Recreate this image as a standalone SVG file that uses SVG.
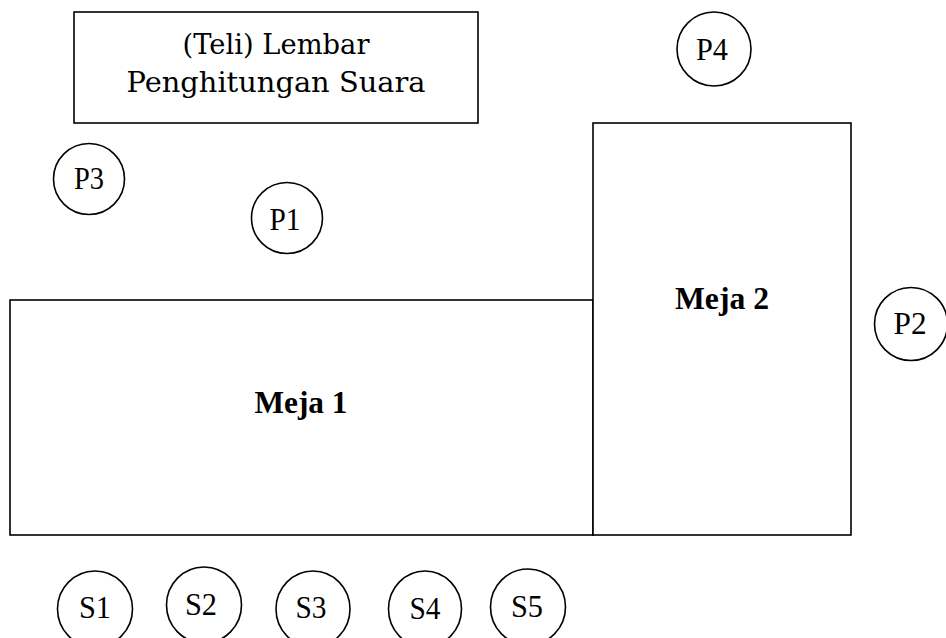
<svg xmlns="http://www.w3.org/2000/svg" width="946" height="638" viewBox="0 0 946 638">
<style>
  .box{fill:#fff;stroke:#000;stroke-width:1.6}
  .seat{fill:#fff;stroke:#000;stroke-width:1.6}
  .lbl{font-family:"Liberation Serif","Times New Roman",serif;font-size:32px;fill:#000;text-anchor:middle}
  .tbl{font-family:"Liberation Serif","Times New Roman",serif;font-size:32px;font-weight:bold;fill:#000;text-anchor:middle}
  .sheet{font-family:"DejaVu Serif","Liberation Serif",serif;font-size:27px;fill:#000;text-anchor:middle}
</style>
<rect width="946" height="638" fill="#fff"/>
<g id="lembar">
  <rect class="box" x="74" y="12" width="404" height="111"/>
  <text class="sheet" x="276" y="54" textLength="187" lengthAdjust="spacingAndGlyphs">(Teli) Lembar</text>
  <text class="sheet" x="276" y="92" textLength="299" lengthAdjust="spacingAndGlyphs">Penghitungan Suara</text>
</g>
<g id="meja1">
  <rect class="box" x="10" y="300" width="583" height="235"/>
  <text class="tbl" x="301" y="413" textLength="93" lengthAdjust="spacingAndGlyphs">Meja 1</text>
</g>
<g id="meja2">
  <rect class="box" x="593" y="123" width="258" height="412"/>
  <text class="tbl" x="722" y="309" textLength="94" lengthAdjust="spacingAndGlyphs">Meja 2</text>
</g>
<g id="p1"><circle class="seat" cx="287" cy="218" r="35.5"/><text class="lbl" x="285" y="230" textLength="31" lengthAdjust="spacingAndGlyphs">P1</text></g>
<g id="p2"><circle class="seat" cx="911" cy="324" r="36.5"/><text class="lbl" x="910" y="334" textLength="33" lengthAdjust="spacingAndGlyphs">P2</text></g>
<g id="p3"><circle class="seat" cx="89" cy="179" r="35.5"/><text class="lbl" x="89" y="189" textLength="30" lengthAdjust="spacingAndGlyphs">P3</text></g>
<g id="p4"><circle class="seat" cx="714" cy="49" r="37"/><text class="lbl" x="712" y="60" textLength="32" lengthAdjust="spacingAndGlyphs">P4</text></g>
<g id="s1"><ellipse class="seat" cx="95" cy="609" rx="37.5" ry="38"/><text class="lbl" x="95" y="618" textLength="32" lengthAdjust="spacingAndGlyphs">S1</text></g>
<g id="s2"><ellipse class="seat" cx="204" cy="605" rx="37.5" ry="38"/><text class="lbl" x="201" y="615" textLength="32" lengthAdjust="spacingAndGlyphs">S2</text></g>
<g id="s3"><ellipse class="seat" cx="313" cy="609" rx="37" ry="38"/><text class="lbl" x="311" y="618" textLength="31" lengthAdjust="spacingAndGlyphs">S3</text></g>
<g id="s4"><ellipse class="seat" cx="425" cy="609" rx="36.5" ry="38"/><text class="lbl" x="425" y="619" textLength="31" lengthAdjust="spacingAndGlyphs">S4</text></g>
<g id="s5"><ellipse class="seat" cx="528" cy="607" rx="37.5" ry="38"/><text class="lbl" x="527" y="617" textLength="32" lengthAdjust="spacingAndGlyphs">S5</text></g>
</svg>
